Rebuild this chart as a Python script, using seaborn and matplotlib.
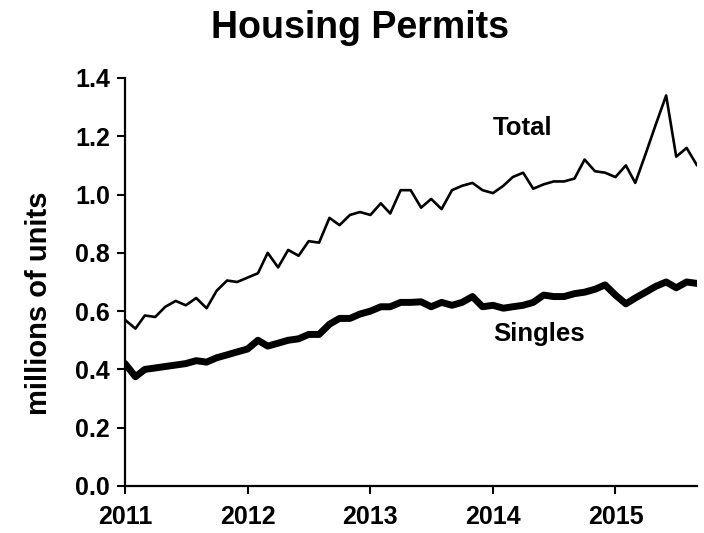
import pandas as pd
import seaborn as sns
import matplotlib.pyplot as plt

# monthly permits, millions of units (SAAR), Jan 2011 - Sep 2015
months = pd.date_range("2011-01-01", "2015-09-01", freq="MS")
total = [0.57, 0.54, 0.585, 0.58, 0.615, 0.635, 0.62, 0.645, 0.61, 0.67, 0.705, 0.70,
         0.715, 0.73, 0.80, 0.75, 0.81, 0.79, 0.84, 0.835, 0.92, 0.895, 0.93, 0.94,
         0.93, 0.97, 0.935, 1.015, 1.015, 0.955, 0.985, 0.95, 1.015, 1.03, 1.04, 1.015,
         1.005, 1.03, 1.06, 1.075, 1.02, 1.035, 1.045, 1.045, 1.055, 1.12, 1.08, 1.075,
         1.06, 1.10, 1.04, 1.14, 1.24, 1.34, 1.13, 1.16, 1.10]
singles = [0.42, 0.375, 0.40, 0.405, 0.41, 0.415, 0.42, 0.43, 0.425, 0.44, 0.45, 0.46,
           0.47, 0.50, 0.48, 0.49, 0.50, 0.505, 0.52, 0.52, 0.555, 0.575, 0.575, 0.59,
           0.60, 0.615, 0.615, 0.63, 0.63, 0.632, 0.615, 0.63, 0.62, 0.63, 0.65, 0.615,
           0.62, 0.61, 0.615, 0.62, 0.63, 0.655, 0.65, 0.65, 0.66, 0.665, 0.675, 0.69,
           0.655, 0.625, 0.645, 0.665, 0.685, 0.70, 0.68, 0.70, 0.695]
years = ["2011", "2012", "2013", "2014", "2015"]
yticks = [0.0, 0.2, 0.4, 0.6, 0.8, 1.0, 1.2, 1.4]

df = pd.DataFrame({"month": months, "Total": total, "Singles": singles})

sns.set_style("ticks")
plt.rcParams["font.family"] = ["Liberation Sans", "DejaVu Sans"]
plt.rcParams["font.weight"] = "bold"
plt.rcParams["text.color"] = "black"

fig = plt.figure(figsize=(7.04, 5.33), dpi=100)
ax = fig.add_axes([0.1776, 0.0882, 0.8125, 0.7655])

sns.lineplot(data=df, x="month", y="Total", ax=ax, color="black", linewidth=1.9)
sns.lineplot(data=df, x="month", y="Singles", ax=ax, color="black", linewidth=5.0)

ax.set_xlim(months[0], months[-1])
ax.set_ylim(0, 1.4)
ax.set_yticks(yticks)
ax.set_yticklabels([f"{v:.1f}" for v in yticks], fontsize=18, fontweight="bold")
year_pos = [pd.Timestamp(y + "-01-01") for y in years]
ax.set_xticks(year_pos)
ax.set_xticklabels(years, fontsize=18, fontweight="bold")
ax.tick_params(axis="both", direction="out", length=6, width=1.5, colors="black",
               labelcolor="black", pad=5)
ax.tick_params(axis="x", pad=8)
ax.set_xlabel("")
ax.set_ylabel("")
sns.despine(ax=ax)
for s in ["left", "bottom"]:
    ax.spines[s].set_linewidth(1.6)
    ax.spines[s].set_color("black")

ax.text(pd.Timestamp("2014-01-01"), 1.23, "Total", fontsize=18.5, fontweight="bold",
        va="center", color="black")
ax.text(pd.Timestamp("2014-01-01"), 0.52, "Singles", fontsize=18.5, fontweight="bold",
        va="center", color="black")

fig.text(0.512, 0.948, "Housing Permits", ha="center", va="center", fontsize=27,
         fontweight="bold", color="black")
fig.text(0.055, 1 - 303 / 533, "millions of units", rotation=90, ha="center", va="center",
         fontsize=21, fontweight="bold", color="black")

fig.savefig("out.png", dpi=100)
